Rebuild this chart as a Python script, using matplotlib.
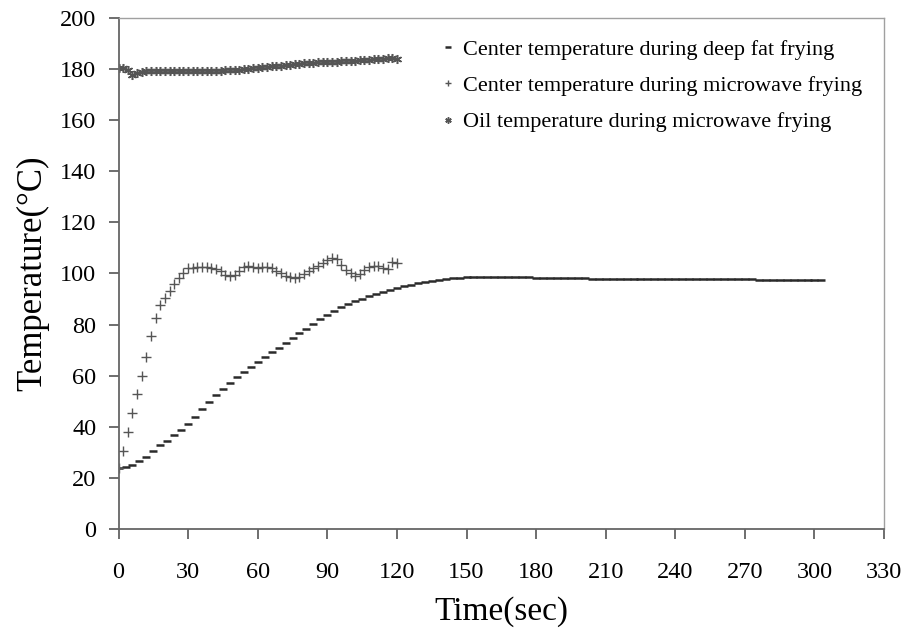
import matplotlib
matplotlib.use("Agg")
import matplotlib.pyplot as plt

# deep fat frying, centre temperature (every 3 s)
deep_time = list(range(0, 304, 3))
deep_temp = [
    23.8, 24.3, 25.2, 26.5, 28.3, 30.5, 32.8, 34.6, 36.6, 38.8,
    41.0, 44.0, 47.0, 49.8, 52.5, 54.9, 57.2, 59.4, 61.4, 63.5,
    65.5, 67.3, 69.2, 71.0, 72.8, 74.8, 76.8, 78.4, 80.2, 82.0,
    83.8, 85.3, 86.8, 88.0, 89.2, 90.2, 91.1, 92.0, 92.9, 93.7,
    94.4, 95.0, 95.6, 96.1, 96.6, 97.0, 97.4, 97.8, 98.1, 98.3,
    98.5, 98.6, 98.7, 98.8, 98.8, 98.8, 98.8, 98.7, 98.6, 98.5,
    98.4, 98.4, 98.3, 98.3, 98.2, 98.2, 98.1, 98.1, 98.0, 98.0,
    98.0, 98.0, 98.0, 97.9, 97.9, 97.9, 97.9, 97.9, 97.9, 97.9,
    97.9, 97.8, 97.8, 97.8, 97.8, 97.8, 97.7, 97.7, 97.7, 97.7,
    97.7, 97.7, 97.6, 97.6, 97.6, 97.6, 97.6, 97.6, 97.6, 97.6,
    97.6, 97.6,
]

# microwave frying (every 2 s)
mw_time = list(range(0, 121, 2))
mw_center = [
    24.0, 30.5, 38.0, 45.5, 53.0, 60.0, 67.5, 75.5, 82.5, 87.5,
    90.5, 93.0, 95.7, 98.3, 100.3, 102.0, 102.3, 102.5, 102.5, 102.5,
    102.3, 101.8, 100.8, 99.5, 99.0, 99.5, 101.0, 102.5, 103.0, 102.5,
    102.2, 102.5, 102.5, 102.0, 101.0, 100.0, 99.0, 98.5, 98.2, 98.8,
    99.8, 101.0, 102.2, 103.0, 104.0, 105.2, 106.2, 105.5, 103.5, 101.5,
    100.0, 99.2, 99.8, 101.2, 102.5, 103.0, 102.8, 102.0, 101.6, 104.5,
    104.0,
]
mw_oil = [
    180.3, 180.5, 179.5, 177.8, 178.3, 179.0, 179.2, 179.3, 179.2, 179.3,
    179.3, 179.2, 179.3, 179.4, 179.3, 179.3, 179.4, 179.3, 179.3, 179.4,
    179.3, 179.3, 179.4, 179.5, 179.5, 179.6, 179.8, 180.0, 180.2, 180.4,
    180.6, 180.8, 181.0, 181.1, 181.2, 181.4, 181.5, 181.6, 181.8, 182.0,
    182.2, 182.4, 182.5, 182.6, 182.7, 182.7, 182.8, 182.9, 183.0, 183.1,
    183.2, 183.3, 183.5, 183.6, 183.7, 183.8, 183.9, 184.1, 184.2, 184.2,
    184.0,
]

labels = [
    "Center temperature during deep fat frying",
    "Center temperature during microwave frying",
    "Oil temperature during microwave frying",
]

plt.rcParams["font.family"] = ["Liberation Serif", "DejaVu Serif"]

fig = plt.figure(figsize=(9.07, 6.29), dpi=100)
ax = fig.add_axes([0.1307, 0.159, 0.8440, 0.8124])

ax.plot(deep_time, deep_temp, linestyle="none", marker="_", markersize=6,
        markeredgewidth=1.8, color="#2a2a2a", label=labels[0])
ax.plot(mw_time, mw_center, linestyle="none", marker="+", markersize=6.5,
        markeredgewidth=1.0, color="#555555", label=labels[1])
ax.plot(mw_time, mw_oil, linestyle="none", marker=(6, 2, 0), markersize=6.5,
        markeredgewidth=1.1, color="#555555", label=labels[2])

ax.set_xlim(0, 330)
ax.set_ylim(0, 200)
ax.set_xticks(range(0, 331, 30))
ax.set_yticks(range(0, 201, 20))

ax.tick_params(axis="x", direction="out", length=7, width=1.2, pad=17,
               labelsize=17.5, color="#555555")
ax.tick_params(axis="y", direction="out", length=7, width=1.2, pad=9,
               labelsize=17.5, color="#555555")

for side in ["left", "bottom"]:
    ax.spines[side].set_color("#666666")
    ax.spines[side].set_linewidth(1.3)
for side in ["top", "right"]:
    ax.spines[side].set_color("#a0a0a0")
    ax.spines[side].set_linewidth(1.0)

ax.set_xlabel("Time(sec)", fontsize=24, labelpad=9)
ax.set_ylabel("Temperature(°C)", fontsize=25, labelpad=8)

leg = ax.legend(loc="upper left", bbox_to_anchor=(0.395, 0.997), frameon=False,
                fontsize=16, handlelength=0.6, handletextpad=0.4,
                labelspacing=0.7, markerscale=0.7)

fig.savefig("out.png", dpi=100)
